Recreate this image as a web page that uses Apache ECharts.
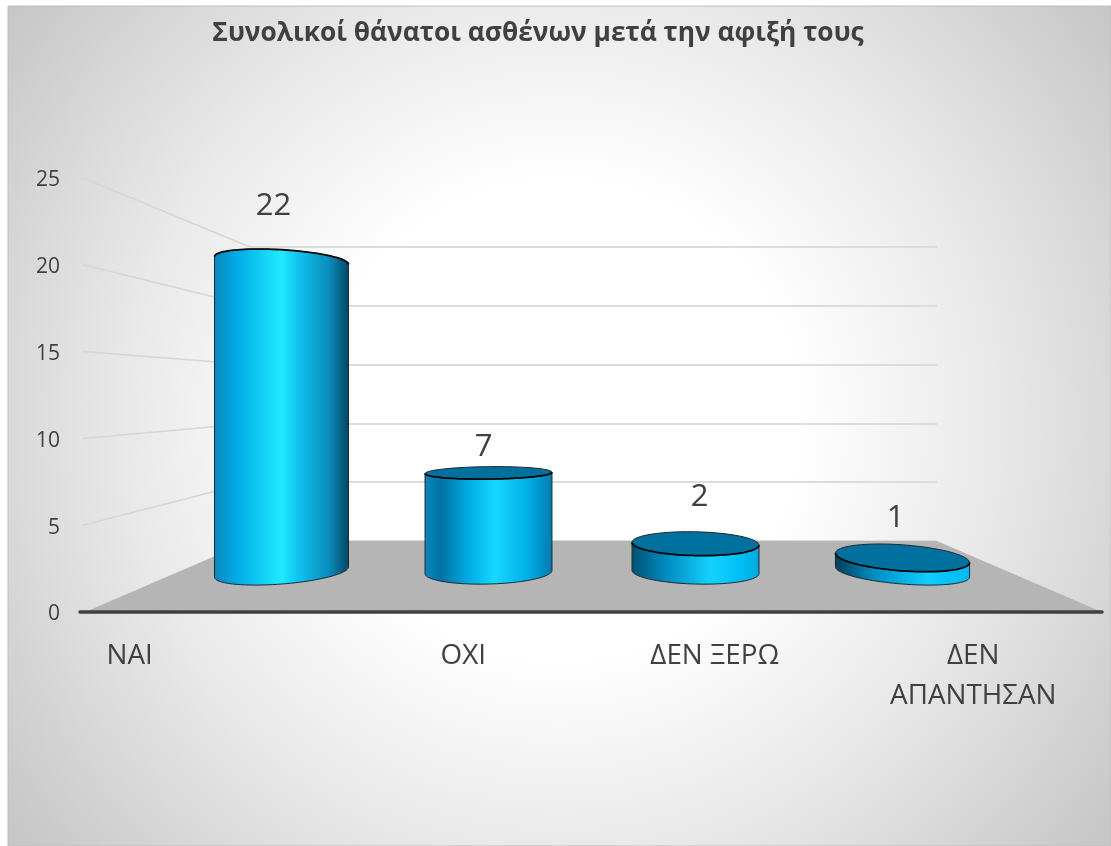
<!DOCTYPE html>
<html>
<head>
<meta charset="utf-8">
<style>html,body{margin:0;padding:0;background:#fff}#c{width:1111px;height:846px}</style>
<script src="https://cdn.jsdelivr.net/npm/echarts@6/dist/echarts.min.js"></script>
</head>
<body>
<div id="c"></div>
<script>
var chartTitle = 'Συνολικοί θάνατοι ασθένων μετά την αφιξή τους';
var categories = ['ΝΑΙ', 'ΟΧΙ', 'ΔΕΝ ΞΕΡΩ', 'ΔΕΝ\nΑΠΑΝΤΗΣΑΝ'];
var deaths = [22, 7, 2, 1];
var axisTicks = [5, 10, 15, 20, 25];

// Layout of the three depth planes of the 3D scene
var FRONT = {left: 80, right: 1102, y0: 612, y25: 178};
var MID = {left: 178, right: 1006, y0: 572, y25: 218};
var BACK = {left: 250, right: 937, y0: 541, y25: 247};
var W = 1111, H = 846;
var TEXT = '#404040';
var TICK_TEXT_DROP = 2.5;
var HORIZON = 395, VANISH_X = 591, ELLIPSE = 0.08, BASE_ELLIPSE = 0.068, TILT = 1.39e-6, WIDEN = 6.6e-7, BAR_RATIO = 0.609;
var labelOffsets = [[-8, -54], [-5, -26], [4, -47], [-7, -40]];
var labelShift = [-78, 0, -4, -1];
var barShades = [
  [[0, '#0a86bc'], [0.18, '#02aee8'], [0.5, '#20eaff'], [0.62, '#10c4f0'], [0.85, '#0a8cbc'], [1, '#034562']],
  [[0, '#0a86bc'], [0.13, '#0072a4'], [0.35, '#00aee6'], [0.55, '#16d8ff'], [0.8, '#00b0e8'], [1, '#007aae']],
  [[0, '#00506f'], [0.25, '#0086bb'], [0.62, '#14d2ff'], [0.85, '#00bef6'], [1, '#00a8dc']],
  [[0, '#003d5a'], [0.3, '#0090c5'], [0.68, '#10ccff'], [1, '#00b8f0']]
];

function planeY(p, v) { return p.y0 + (p.y25 - p.y0) * v / 25; }

function arc(x, y, a, b, slope, t0, t1) {
  var pts = [], n = 48;
  for (var i = 0; i <= n; i++) {
    var t = t0 + (t1 - t0) * i / n;
    pts.push([x + a * Math.cos(t), y + slope * a * Math.cos(t) + b * Math.sin(t)]);
  }
  return pts;
}

function renderFloor(params, api) {
  if (params.dataIndex !== 0) return null;
  return {
    type: 'polygon',
    shape: {points: [[FRONT.left + 5, FRONT.y0], [FRONT.right, FRONT.y0], [BACK.right, BACK.y0], [BACK.left, BACK.y0]]},
    style: {fill: '#b5b5b5'}
  };
}

function renderSideLine(params, api) {
  var v = api.value(0);
  return {
    type: 'line',
    shape: {x1: FRONT.left + 3, y1: planeY(FRONT, v), x2: BACK.left, y2: planeY(BACK, v)},
    style: {lineWidth: 1.5, stroke: '#d6d6d6'}
  };
}

function renderCylinder(params, api) {
  var idx = api.value(0), v = api.value(1);
  var top = api.coord([idx, v]), base = api.coord([idx, 0]);
  var band = api.size([1, 0])[0];
  var x = top[0], dx = x - VANISH_X;
  var a = band * BAR_RATIO / 2 * (1 + WIDEN * dx * dx);
  var yT = top[1], yB = base[1];
  var bT = ELLIPSE * (yT - HORIZON), bB = BASE_ELLIPSE * (yB - HORIZON);
  var sT = TILT * dx * (yT - HORIZON), sB = TILT * dx * (yB - HORIZON);
  var topFront = arc(x, yT, a, bT, sT, Math.PI, 0);
  var bottomFront = arc(x, yB, a, bB, sB, 0, Math.PI);
  var children = [{
    type: 'polygon',
    shape: {points: topFront.concat(bottomFront)},
    style: {
      fill: {type: 'linear', x: 0, y: 0, x2: 1, y2: 0, colorStops: barShades[idx].map(function (s) {
        return {offset: s[0], color: s[1]};
      })},
      stroke: '#1c2a33', lineWidth: 1
    }
  }];
  if (bT > 0) {
    children.push({
      type: 'polygon',
      shape: {points: arc(x, yT, a, bT, sT, 0, Math.PI * 2)},
      style: {fill: '#00719f', stroke: '#1c2a33', lineWidth: 1}
    });
  }
  children.push({
    type: 'polyline',
    shape: {points: topFront},
    style: {fill: null, stroke: '#0a0a0a', lineWidth: 1.8}
  });
  var off = labelOffsets[idx];
  children.push({
    type: 'text',
    x: x + off[0], y: yT + off[1],
    style: {
      text: String(v), fill: TEXT, fontFamily: 'Open Sans', fontSize: 31,
      align: 'center', verticalAlign: 'middle'
    }
  });
  return {type: 'group', children: children};
}

var chart = echarts.init(document.getElementById('c'), null, {renderer: 'canvas'});
chart.setOption({
  animation: false,
  graphic: [{
    type: 'rect', z: -100, silent: true,
    shape: {x: 8, y: 6, width: W - 8, height: H - 6},
    style: {
      stroke: '#bdbdbd', lineWidth: 1,
      fill: {type: 'radial', x: 560, y: 420, r: 720, global: true, colorStops: [
        {offset: 0, color: '#ffffff'}, {offset: 0.33, color: '#ffffff'},
        {offset: 0.6, color: '#e9e9e9'}, {offset: 1, color: '#c2c2c2'}]}
    }
  }],
  title: {
    text: chartTitle, left: 533, top: 16, textAlign: 'center',
    textStyle: {fontFamily: 'Open Sans', fontSize: 26.3, fontWeight: 'bold', color: TEXT}
  },
  grid: [
    {left: FRONT.left, width: FRONT.right - FRONT.left, top: FRONT.y25 + TICK_TEXT_DROP, height: FRONT.y0 - FRONT.y25},
    {left: BACK.left, width: BACK.right - BACK.left, top: BACK.y25, height: BACK.y0 - BACK.y25},
    {left: MID.left, width: MID.right - MID.left, top: MID.y25, height: MID.y0 - MID.y25}
  ],
  xAxis: [
    {
      gridIndex: 0, type: 'category', z: 3, offset: -TICK_TEXT_DROP,
      data: categories.map(function (c, i) {
        var s = labelShift[i];
        return {value: c, textStyle: {padding: [0, -2 * s, 0, 0]}};
      }),
      axisLine: {lineStyle: {color: TEXT, width: 3.5, cap: 'round'}},
      axisTick: {show: false},
      axisLabel: {
        interval: 0, margin: 24, fontFamily: 'Open Sans', fontSize: 27.8, lineHeight: 40, color: TEXT, hideOverlap: false
      }
    },
    {gridIndex: 1, type: 'category', data: categories, show: false},
    {gridIndex: 2, type: 'category', data: categories, show: false}
  ],
  yAxis: [
    {
      gridIndex: 0, type: 'value', min: 0, max: 25, interval: 5,
      axisLine: {show: false}, axisTick: {show: false}, splitLine: {show: false},
      axisLabel: {margin: 20, fontFamily: 'Open Sans', fontSize: 21, color: TEXT}
    },
    {
      gridIndex: 1, type: 'value', min: 0, max: 25, interval: 5,
      axisLine: {show: false}, axisTick: {show: false}, axisLabel: {show: false},
      splitLine: {show: true, lineStyle: {color: '#dcdcdc', width: 2}}
    },
    {gridIndex: 2, type: 'value', min: 0, max: 25, show: false}
  ],
  series: [
    {type: 'custom', coordinateSystem: 'none', z: 1, silent: true, data: [0], renderItem: renderFloor},
    {type: 'custom', coordinateSystem: 'none', z: 1, silent: true, data: axisTicks, renderItem: renderSideLine},
    {
      type: 'custom', xAxisIndex: 2, yAxisIndex: 2, z: 5,
      data: deaths.map(function (v, i) { return [i, v]; }),
      encode: {x: 0, y: 1},
      renderItem: renderCylinder
    }
  ]
});
</script>
</body>
</html>
